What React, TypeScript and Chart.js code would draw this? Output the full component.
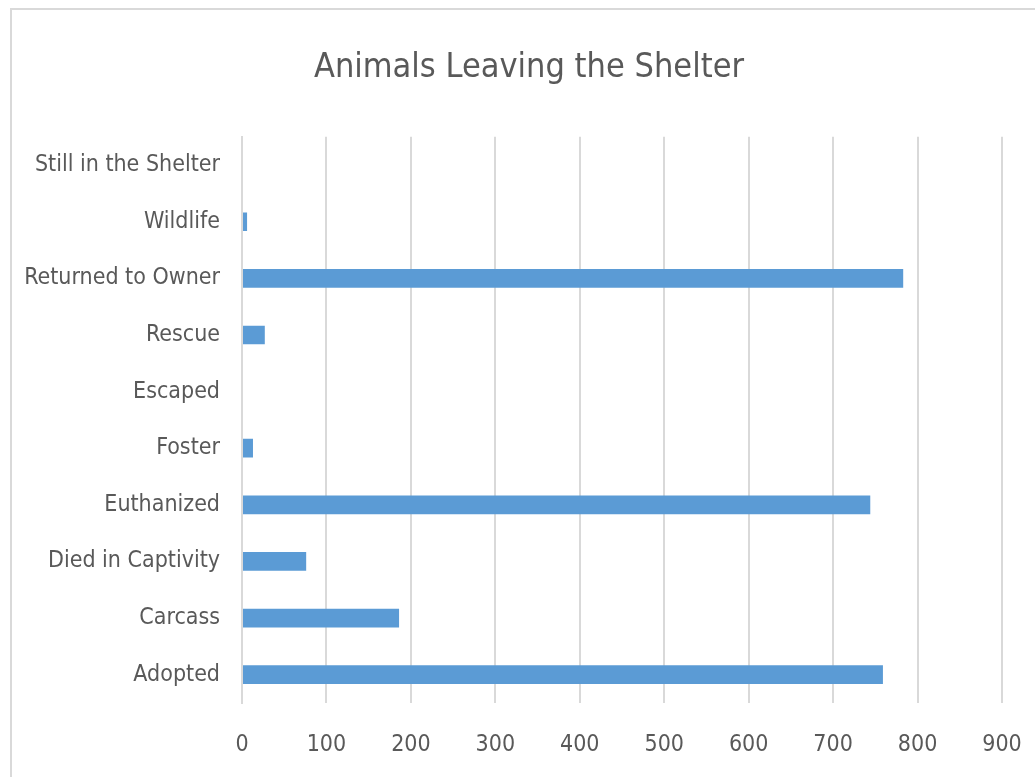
import React, { useEffect, useRef } from "react";
import { Chart, registerables } from "chart.js";

Chart.register(...registerables);

const categories = [
  "Still in the Shelter",
  "Wildlife",
  "Returned to Owner",
  "Rescue",
  "Escaped",
  "Foster",
  "Euthanized",
  "Died in Captivity",
  "Carcass",
  "Adopted",
];
const counts = [0, 6, 783, 27, 0, 13, 744, 76, 186, 759];
const xTicks = [0, 100, 200, 300, 400, 500, 600, 700, 800, 900];
const titleText = "Animals Leaving the Shelter";

const FONT = "'DejaVu Sans Condensed', 'Liberation Sans Narrow', 'Open Sans', sans-serif";
const TEXT = "#595959";
const GRID = "#d9d9d9";

export default function App() {
  const ref = useRef<HTMLCanvasElement | null>(null);
  useEffect(() => {
    if (!ref.current) return;
    const chart = new Chart(ref.current, {
      type: "bar",
      data: {
        labels: categories,
        datasets: [
          {
            data: counts,
            backgroundColor: "#5b9bd5",
            categoryPercentage: 1,
            barPercentage: 0.33,
          },
        ],
      },
      options: {
        indexAxis: "y",
        responsive: false,
        animation: false,
        layout: { padding: { left: 23, right: 0, top: 0, bottom: 0 } },
        plugins: {
          legend: { display: false },
          tooltip: { enabled: false },
          title: {
            display: true,
            text: titleText,
            color: TEXT,
            font: { family: FONT, size: 34, weight: "normal", lineHeight: 1.2 },
            padding: { top: 48, bottom: 48 },
          },
        },
        scales: {
          x: {
            min: 0,
            max: 900,
            afterBuildTicks: (s: any) => {
              s.ticks = xTicks.map((v) => ({ value: v }));
            },
            afterFit: (s: any) => {
              s.height = 74;
              s.paddingLeft = 0;
              s.paddingRight = 33;
            },
            grid: { color: GRID, lineWidth: 2, drawTicks: false },
            border: { display: false },
            ticks: { color: TEXT, font: { family: FONT, size: 23 }, padding: 28 },
          },
          y: {
            afterFit: (s: any) => {
              s.width = 219;
            },
            grid: { display: false, drawTicks: false },
            border: { display: true, color: GRID, width: 2 },
            ticks: { color: TEXT, font: { family: FONT, size: 23 }, padding: 22 },
          },
        },
      },
    });
    return () => chart.destroy();
  }, []);
  return (
    <div style={{ position: "fixed", left: 0, top: 0, width: 1035, height: 777, overflow: "hidden", background: "#fff" }}>
      <div
        style={{
          position: "absolute",
          left: 10,
          top: 8,
          width: 1100,
          height: 900,
          border: "2px solid #d9d9d9",
        }}
      />
      <canvas ref={ref} width={1035} height={777} style={{ position: "absolute", left: 0, top: 0 }} />
    </div>
  );
}
